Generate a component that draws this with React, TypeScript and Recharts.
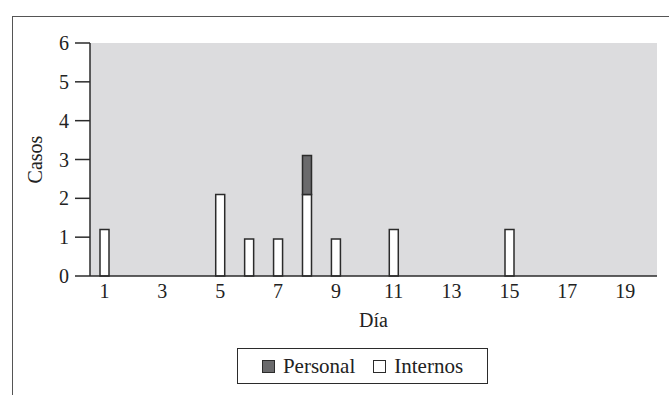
import { Bar, BarChart, CartesianGrid, XAxis, YAxis } from "recharts";

const days = [1, 5, 6, 7, 8, 9, 11, 15];
const internos = [1.2, 2.1, 0.95, 0.95, 2.1, 0.95, 1.2, 1.2];
const personal = [0, 0, 0, 0, 1.0, 0, 0, 0];
const xTicks = [1, 3, 5, 7, 9, 11, 13, 15, 17, 19];
const yTicks = [0, 1, 2, 3, 4, 5, 6];

const data = days.map((day, i) => ({
  day,
  internos: internos[i],
  personal: personal[i],
}));

const FONT = "'Liberation Serif', 'Times New Roman', serif";
const INK = "#2b2b2b";
const PERSONAL_FILL = "#6a6a6c";
const PLOT_BG = "#dcdcde";

const legendItems = [
  { name: "Personal", fill: PERSONAL_FILL },
  { name: "Internos", fill: "#ffffff" },
];

export default function App() {
  const tickStyle = { fill: "#222", fontSize: 20, fontFamily: FONT };

  return (
    <div
      style={{
        position: "absolute",
        left: 0,
        top: 0,
        width: 669,
        height: 395,
        background: "#fff",
        overflow: "hidden",
      }}
    >
      {/* outer frame, only top and left edges visible */}
      <div
        style={{
          position: "absolute",
          left: 12,
          top: 16,
          right: -4,
          bottom: -4,
          borderTop: "1.5px solid #555",
          borderLeft: "1.5px solid #555",
        }}
      />
      <div style={{ position: "absolute", left: 0, top: 0 }}>
        <BarChart
          width={669}
          height={395}
          data={data}
          margin={{ top: 43, right: 12, left: 0, bottom: 62 }}
        >
          <CartesianGrid
            horizontal={false}
            vertical={false}
            fill={PLOT_BG}
            fillOpacity={1}
          />
          <XAxis
            dataKey="day"
            type="number"
            domain={[0.5, 20.1]}
            ticks={xTicks}
            interval={0}
            tickLine={false}
            axisLine={{ stroke: INK, strokeWidth: 1.5 }}
            tick={tickStyle}
            height={57}
            label={{
              value: "Día",
              position: "insideBottom",
              offset: 6,
              style: { fill: "#222", fontSize: 20, fontFamily: FONT },
            }}
          />
          <XAxis
            xAxisId="top"
            orientation="top"
            type="number"
            domain={[0.5, 20.1]}
            height={0}
            tick={false}
            tickLine={false}
            axisLine={{ stroke: INK, strokeWidth: 1.5 }}
          />
          <YAxis
            domain={[0, 6]}
            ticks={yTicks}
            interval={0}
            width={90}
            tickSize={15}
            tickMargin={6}
            tickLine={{ stroke: INK, strokeWidth: 1.5 }}
            axisLine={{ stroke: INK, strokeWidth: 1.5 }}
            tick={tickStyle}
            label={{
              value: "Casos",
              angle: -90,
              position: "insideLeft",
              dx: 30,
              style: {
                fill: "#222",
                fontSize: 20,
                fontFamily: FONT,
                textAnchor: "middle",
              },
            }}
          />
          <YAxis
            yAxisId="right"
            orientation="right"
            domain={[0, 6]}
            width={0}
            tick={false}
            tickLine={false}
            axisLine={{ stroke: INK, strokeWidth: 1.5 }}
          />
          <Bar
            dataKey="internos"
            name="Internos"
            stackId="a"
            fill="#ffffff"
            stroke={INK}
            strokeWidth={1.5}
            barSize={9}
            isAnimationActive={false}
          />
          <Bar
            dataKey="personal"
            name="Personal"
            stackId="a"
            fill={PERSONAL_FILL}
            stroke={INK}
            strokeWidth={1.5}
            barSize={9}
            isAnimationActive={false}
          />
        </BarChart>
      </div>
      <div
        style={{
          position: "absolute",
          left: 237,
          top: 348,
          width: 251,
          height: 36,
          boxSizing: "border-box",
          border: `1.5px solid ${INK}`,
          display: "flex",
          alignItems: "center",
          justifyContent: "center",
          gap: 18,
          fontFamily: FONT,
          fontSize: 21,
          color: "#222",
          background: "#fff",
        }}
      >
        {legendItems.map((item) => (
          <div key={item.name} style={{ display: "flex", alignItems: "center" }}>
            <span
              style={{
                display: "inline-block",
                width: 13,
                height: 13,
                boxSizing: "border-box",
                border: `1.5px solid ${INK}`,
                background: item.fill,
                marginRight: 8,
              }}
            />
            <span>{item.name}</span>
          </div>
        ))}
      </div>
    </div>
  );
}
